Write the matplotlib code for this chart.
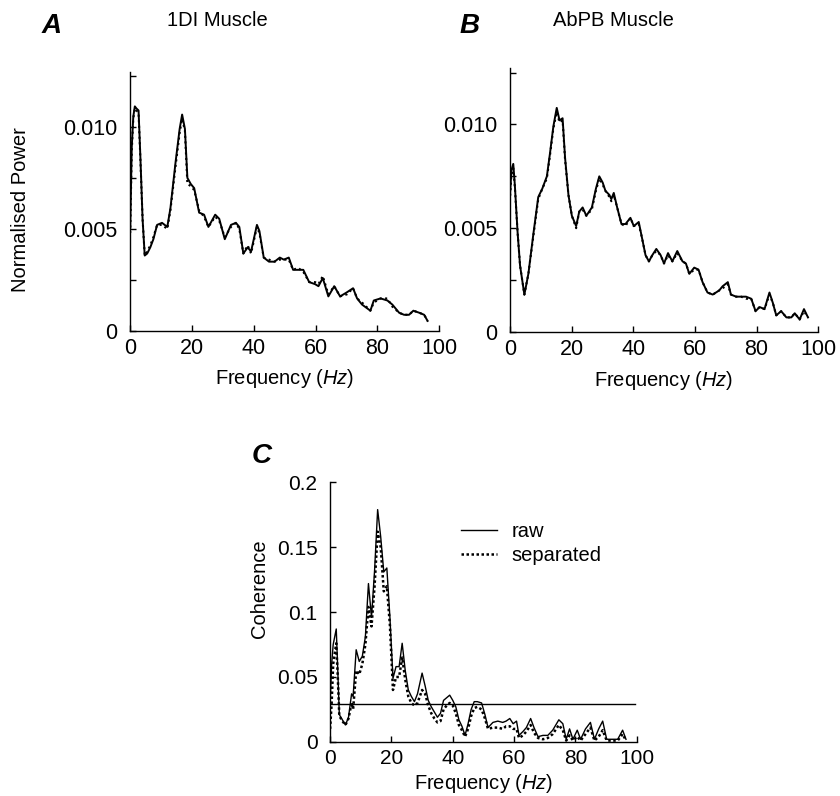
import numpy as np
import matplotlib
matplotlib.use('Agg')
import matplotlib.pyplot as plt

plt.rcParams['font.family'] = ['Liberation Sans', 'DejaVu Sans']
plt.rcParams['mathtext.fontset'] = 'custom'
plt.rcParams['mathtext.rm'] = 'Liberation Sans'
plt.rcParams['mathtext.it'] = 'Liberation Sans:italic'

# panel A: 1DI muscle power spectrum
A_freq = [0, 0.5, 1, 1.5, 2, 2.7, 3.3, 4, 4.7, 5.5, 6.5, 7.5, 8.7, 10.3, 12, 13, 14.7, 16, 16.8, 17.7,
          18.5, 19.6, 20.7, 22.3, 23.9, 25.3, 27.5, 28.8, 30.6, 32.6, 34.2, 35.3, 36.6, 38, 39.1, 41, 41.8,
          43.2, 44.9, 46.7, 48.4, 49.7, 51.3, 52.7, 54.3, 56, 57.9, 59.8, 60.9, 62.3, 64.1, 66, 67.9, 70.1,
          72.1, 73.4, 75, 77.7, 78.8, 81, 83.2, 84.8, 87, 88.6, 90.2, 91.6, 93.5, 95.1, 96.2]
A_raw = [0.0050, 0.0090, 0.0105, 0.0110, 0.0109, 0.0108, 0.0085, 0.0055, 0.0037, 0.0038,
         0.0041, 0.0045, 0.0052, 0.0053, 0.0051, 0.0060, 0.0083, 0.0099, 0.0106, 0.0099,
         0.0075, 0.0072, 0.0070, 0.0058, 0.0057, 0.0051, 0.0057, 0.0055, 0.0045, 0.0052,
         0.0053, 0.0051, 0.0038, 0.0041, 0.0039, 0.0052, 0.0049, 0.0036, 0.0034, 0.0034,
         0.0036, 0.0035, 0.0036, 0.0030, 0.0030, 0.0030, 0.0024, 0.0023, 0.0022, 0.0026,
         0.0017, 0.0022, 0.0017, 0.0019, 0.0021, 0.0016, 0.0013, 0.0010, 0.0015, 0.0016,
         0.0015, 0.0013, 0.0009, 0.0008, 0.0008, 0.0010, 0.0009, 0.0008, 0.0005]
A_sep = [0.0048, 0.0088, 0.0104, 0.0109, 0.0108, 0.0107, 0.0084, 0.0055, 0.0037, 0.0039,
         0.0042, 0.0046, 0.0052, 0.0052, 0.0050, 0.0059, 0.0081, 0.0097, 0.0104, 0.0098,
         0.0072, 0.0071, 0.0069, 0.0059, 0.0056, 0.0051, 0.0056, 0.0054, 0.0046, 0.0051,
         0.0053, 0.0050, 0.0038, 0.0042, 0.0038, 0.0051, 0.0048, 0.0036, 0.0035, 0.0034,
         0.0035, 0.0035, 0.0035, 0.0030, 0.0031, 0.0029, 0.0024, 0.0024, 0.0023, 0.0027,
         0.0018, 0.0022, 0.0017, 0.0018, 0.0021, 0.0016, 0.0014, 0.0010, 0.0014, 0.0016,
         0.0016, 0.0012, 0.0009, 0.0008, 0.0008, 0.0010, 0.0009, 0.0008, 0.0005]

# panel B: AbPB muscle power spectrum
B_freq = [0, 0.5, 1.1, 1.6, 2.5, 3.3, 4.7, 6, 7.6, 9.2, 10.5, 12, 13, 14.1, 15.2, 16.1, 17.1, 17.9, 19,
          20.1, 21.5, 22.5, 23.6, 24.8, 26.6, 27.9, 29, 30.1, 31, 32.3, 32.9, 33.7, 34.8, 36.2, 37.5, 39.1,
          40.2, 41.8, 42.9, 44, 45.1, 46.2, 47.5, 48.9, 50, 51.3, 52.7, 54.3, 56, 57.1, 58.2, 59.8, 61.2,
          62.5, 64.1, 65.8, 67.9, 69, 70.7, 71.7, 73.4, 75, 76.6, 78.3, 79.7, 81, 82.6, 84.2, 85.3, 86.4,
          88, 89.7, 91.3, 92.4, 94, 95.4, 96.7]
B_raw = [0.0065, 0.0078, 0.0081, 0.0071, 0.0048, 0.0032, 0.0018, 0.0028, 0.0047, 0.0065,
         0.0069, 0.0075, 0.0086, 0.0099, 0.0108, 0.0102, 0.0103, 0.0084, 0.0066, 0.0056,
         0.0051, 0.0058, 0.0060, 0.0056, 0.0060, 0.0069, 0.0075, 0.0072, 0.0068, 0.0066,
         0.0064, 0.0067, 0.0060, 0.0052, 0.0052, 0.0055, 0.0051, 0.0053, 0.0045, 0.0037,
         0.0034, 0.0037, 0.0040, 0.0037, 0.0033, 0.0038, 0.0034, 0.0039, 0.0034, 0.0033,
         0.0028, 0.0031, 0.0030, 0.0024, 0.0019, 0.0018, 0.0020, 0.0022, 0.0024, 0.0018,
         0.0017, 0.0017, 0.0017, 0.0016, 0.0010, 0.0012, 0.0011, 0.0019, 0.0014, 0.0008,
         0.0010, 0.0007, 0.0007, 0.0009, 0.0006, 0.0011, 0.0007]
B_sep = [0.0063, 0.0076, 0.0079, 0.0070, 0.0048, 0.0032, 0.0018, 0.0028, 0.0046, 0.0064,
         0.0069, 0.0074, 0.0085, 0.0098, 0.0106, 0.0101, 0.0102, 0.0083, 0.0066, 0.0056,
         0.0050, 0.0058, 0.0059, 0.0056, 0.0059, 0.0068, 0.0074, 0.0071, 0.0068, 0.0065,
         0.0063, 0.0066, 0.0060, 0.0052, 0.0051, 0.0055, 0.0051, 0.0052, 0.0045, 0.0037,
         0.0034, 0.0037, 0.0039, 0.0037, 0.0033, 0.0037, 0.0034, 0.0038, 0.0034, 0.0033,
         0.0028, 0.0030, 0.0030, 0.0024, 0.0019, 0.0018, 0.0020, 0.0021, 0.0023, 0.0018,
         0.0017, 0.0017, 0.0016, 0.0016, 0.0010, 0.0012, 0.0011, 0.0018, 0.0014, 0.0008,
         0.0010, 0.0007, 0.0007, 0.0009, 0.0006, 0.0010, 0.0007]

# panel C: coherence
C_freq = [0, 0.5, 1, 2, 2.5, 3, 4, 5, 6, 7, 7.5, 8.5, 9.5, 10.5, 11.5, 12.5, 13.5, 14.5, 15.5, 16.5,
          17.5, 18.5, 19.5, 20.5, 21.5, 22.5, 23.5, 24.5, 25.5, 26.5, 27.5, 28.5, 30, 31, 32, 33, 34, 35,
          36, 37, 38, 39, 40, 41, 42, 43, 44, 45, 46, 47, 48, 49.4, 50.5, 51.5, 53.1, 54.7, 56.3, 57.4,
          58.6, 59.7, 60.8, 61.6, 62.9, 64, 65.4, 66.5, 67.8, 69.4, 71, 72.6, 74.6, 75.9, 77, 78.1, 79.2,
          80.6, 81.7, 83.3, 84.9, 86.2, 87.6, 88.9, 90.2, 92.2, 93.8, 95.4, 96.5]
C_raw = [0.030, 0.060, 0.075, 0.087, 0.055, 0.021, 0.017, 0.013, 0.019, 0.037,
         0.035, 0.071, 0.062, 0.066, 0.081, 0.122, 0.096, 0.132, 0.179, 0.158,
         0.131, 0.134, 0.096, 0.049, 0.058, 0.058, 0.076, 0.055, 0.040, 0.035,
         0.031, 0.037, 0.053, 0.043, 0.032, 0.027, 0.023, 0.019, 0.022, 0.032,
         0.034, 0.036, 0.032, 0.027, 0.017, 0.012, 0.005, 0.014, 0.025, 0.031,
         0.031, 0.030, 0.021, 0.011, 0.015, 0.016, 0.015, 0.016, 0.018, 0.014,
         0.016, 0.005, 0.008, 0.011, 0.018, 0.011, 0.004, 0.005, 0.005, 0.009,
         0.017, 0.014, 0.002, 0.010, 0.002, 0.009, 0.002, 0.010, 0.015, 0.002,
         0.010, 0.016, 0.002, 0.002, 0.002, 0.009, 0.002]
C_sep = [0.010, 0.030, 0.060, 0.076, 0.050, 0.020, 0.016, 0.013, 0.018, 0.030,
         0.025, 0.055, 0.052, 0.060, 0.075, 0.104, 0.089, 0.120, 0.162, 0.150,
         0.116, 0.120, 0.090, 0.040, 0.050, 0.050, 0.065, 0.048, 0.035, 0.030,
         0.028, 0.030, 0.040, 0.037, 0.028, 0.022, 0.018, 0.015, 0.016, 0.025,
         0.028, 0.030, 0.028, 0.022, 0.013, 0.009, 0.004, 0.010, 0.020, 0.026,
         0.027, 0.025, 0.018, 0.010, 0.011, 0.011, 0.010, 0.012, 0.012, 0.010,
         0.010, 0.003, 0.005, 0.008, 0.013, 0.007, 0.003, 0.002, 0.003, 0.006,
         0.013, 0.009, 0.001, 0.005, 0.001, 0.004, 0.001, 0.006, 0.011, 0.001,
         0.004, 0.009, 0.001, 0.001, 0.001, 0.006, 0.001]
C_thresh = 0.029

FS = 14.5
xlab = 'Frequency ($\\mathit{Hz}$)'

fig = plt.figure(figsize=(8.4, 7.96), dpi=100)
axA = fig.add_axes([0.155, 0.584, 0.368, 0.326])
axB = fig.add_axes([0.607, 0.583, 0.367, 0.331])
axC = fig.add_axes([0.393, 0.068, 0.365, 0.326])


def style_ax(ax, ls=15):
    for s in ['top', 'right']:
        ax.spines[s].set_visible(False)
    for s in ['left', 'bottom']:
        ax.spines[s].set_linewidth(1.0)
    ax.tick_params(which='both', direction='in', length=4, width=1, labelsize=ls)
    ax.tick_params(axis='y', pad=9)
    ax.tick_params(axis='x', pad=5)
    ax.set_xlim(0, 100)
    ax.set_xticks([0, 20, 40, 60, 80, 100])


for ax, f, r, s in [(axA, A_freq, A_raw, A_sep), (axB, B_freq, B_raw, B_sep)]:
    ax.plot(f, s, color='black', lw=1.5, ls=':')
    ax.plot(f, r, color='black', lw=1.4)
    style_ax(ax, 15.5)
    ax.set_ylim(0, 0.0127)
    ax.set_yticks([0, 0.005, 0.010])
    ax.set_yticklabels(['0', '0.005', '0.010'])
    ax.set_yticks([0.0025, 0.0075, 0.0125], minor=True)
    ax.set_xlabel(xlab, fontsize=FS)
    ax.xaxis.set_label_coords(0.5, -0.14)

axA.set_ylabel('Normalised Power', fontsize=FS)
axA.yaxis.set_label_coords(-0.325, 0.47)

# panel C
axC.plot(C_freq, C_raw, color='black', lw=1.0, label='raw')
axC.plot(C_freq, C_sep, color='black', lw=1.8, ls=(0, (1, 1)), label='separated')
axC.plot([0, 99.5], [C_thresh, C_thresh], color='black', lw=1.0)
style_ax(axC, 15)
axC.set_ylim(0, 0.2)
axC.set_yticks([0, 0.05, 0.1, 0.15, 0.2])
axC.set_yticklabels(['0', '0.05', '0.1', '0.15', '0.2'])
axC.set_xlabel(xlab, fontsize=FS)
axC.xaxis.set_label_coords(0.5, -0.115)
axC.set_ylabel('Coherence', fontsize=FS)
axC.yaxis.set_label_coords(-0.2, 0.59)
axC.legend(loc='upper left', bbox_to_anchor=(0.40, 0.88), frameon=False, fontsize=FS,
           handlelength=1.8, handletextpad=0.7, labelspacing=0.25, borderaxespad=0)

# titles and panel letters
fig.text(217 / 840, 1 - 20 / 796, '1DI Muscle', ha='center', va='center', fontsize=FS)
fig.text(613 / 840, 1 - 20 / 796, 'AbPB Muscle', ha='center', va='center', fontsize=FS)
fig.text(52 / 840, 1 - 26 / 796, 'A', ha='center', va='center', fontsize=20,
         fontweight='bold', style='italic')
fig.text(470 / 840, 1 - 26 / 796, 'B', ha='center', va='center', fontsize=20,
         fontweight='bold', style='italic')
fig.text(262 / 840, 1 - 456 / 796, 'C', ha='center', va='center', fontsize=20,
         fontweight='bold', style='italic')

plt.savefig('out.png', dpi=100)
